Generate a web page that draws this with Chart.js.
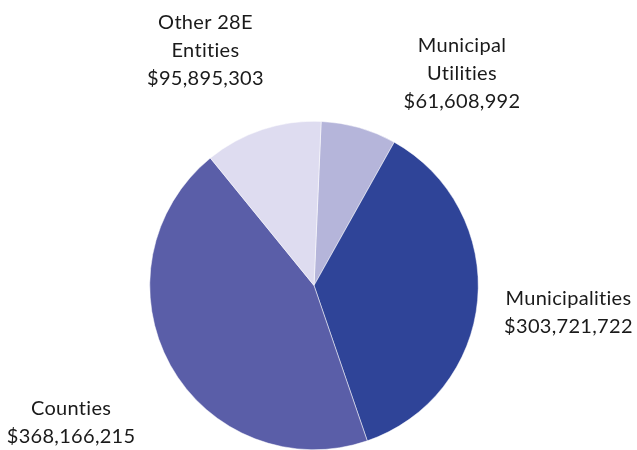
<!DOCTYPE html>
<html>
<head>
<meta charset="utf-8">
<script src="https://cdn.jsdelivr.net/npm/chart.js@4.4.0/dist/chart.umd.min.js"></script>
<style>
  html, body { margin: 0; padding: 0; background: #fff; }
  #wrap { width: 637px; height: 450px; }
</style>
</head>
<body>
<div id="wrap"><canvas id="chart"></canvas></div>
<script>
// categories and values, clockwise from the top
const categories = ["Municipal Utilities", "Municipalities", "Counties", "Other 28E Entities"];
const labelLines = [["Municipal", "Utilities"], ["Municipalities"], ["Counties"], ["Other 28E", "Entities"]];
const amounts = [61608992, 303721722, 368166215, 95895303];
const colors = ["#b5b5da", "#2f4498", "#5a5ea8", "#dedcf0"];
// nudges of each label away from its slice's outer anchor
const labelNudge = [[77, 38], [-4, 4], [-16, 11], [-27, 11]];

function money(v) {
  return "$" + v.toLocaleString("en-US");
}

// draws the outside labels next to each slice
const outsideLabels = {
  id: "outsideLabels",
  afterDraw(chart) {
    const ctx = chart.ctx;
    const arcs = chart.getDatasetMeta(0).data;
    ctx.save();
    ctx.font = "20px Lato";
    ctx.letterSpacing = "0.3px"; // also stops the "ti" ligature
    ctx.fillStyle = "#1a1a1a";
    ctx.textAlign = "center";
    ctx.textBaseline = "middle";
    const lineH = 28;
    arcs.forEach(function(arc, i) {
      const p = arc.getProps(["x", "y", "startAngle", "endAngle", "outerRadius"], true);
      const mid = (p.startAngle + p.endAngle) / 2;
      const d = p.outerRadius * 1.58;
      const cx = p.x + Math.cos(mid) * d + labelNudge[i][0];
      const cy = p.y + Math.sin(mid) * d + labelNudge[i][1];
      const lines = labelLines[i].concat([money(amounts[i])]);
      const top = cy - (lines.length - 1) * lineH / 2;
      lines.forEach(function(t, j) {
        ctx.fillText(t, cx, top + j * lineH);
      });
    });
    ctx.restore();
  }
};

new Chart(document.getElementById("chart"), {
  type: "pie",
  data: {
    labels: categories,
    datasets: [{
      data: amounts,
      backgroundColor: colors,
      borderColor: "#ffffff",
      borderWidth: 0.5
    }]
  },
  options: {
    responsive: true,
    maintainAspectRatio: false,
    animation: false,
    rotation: 2.5,
    layout: { padding: { top: 121, bottom: 0, left: 0, right: 9 } },
    plugins: {
      legend: { display: false },
      tooltip: { enabled: false }
    }
  },
  plugins: [outsideLabels]
});
</script>
</body>
</html>
